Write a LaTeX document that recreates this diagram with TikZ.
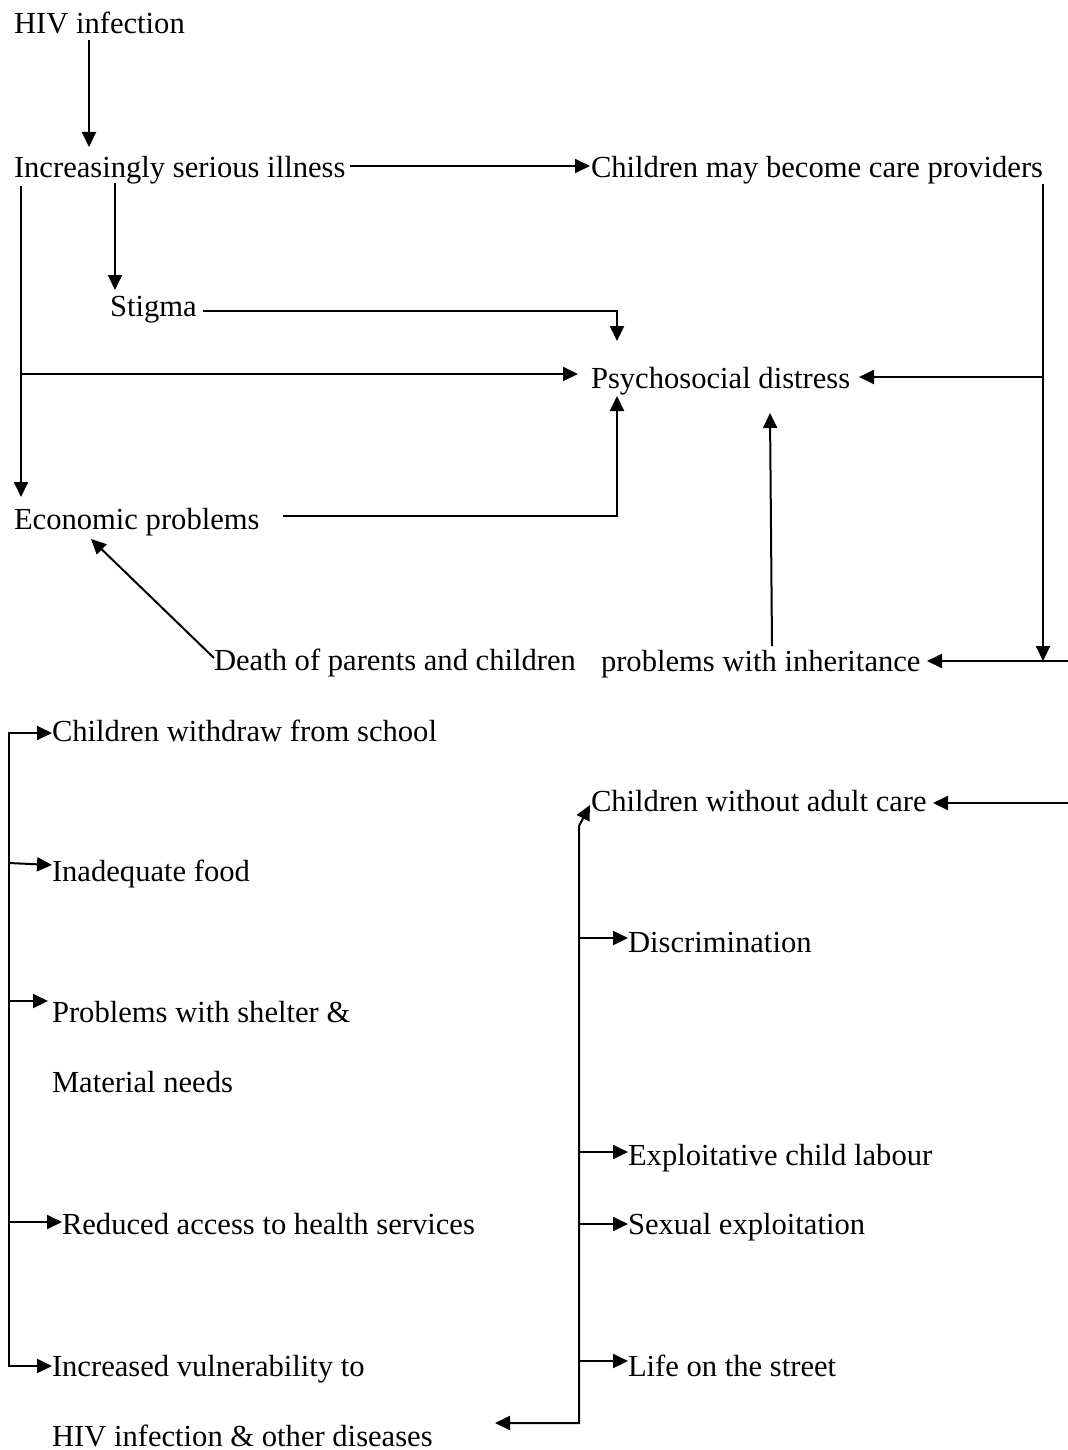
\documentclass[tikz,border=0pt]{standalone}
\usepackage{fontspec}
\setmainfont{Liberation Serif}
\usetikzlibrary{arrows.meta}
\begin{document}
\begin{tikzpicture}[x=0.5pt,y=-0.5pt,
  lbl/.style={anchor=base west,inner sep=0pt,outer sep=0pt,font=\fontsize{15.3}{18}\selectfont},
  conn/.style={line width=1pt},
  tip/.tip={Triangle[length=7.5pt,width=7pt]},
  arr/.style={conn,-tip},
  twoarr/.style={conn,tip-tip}]
\useasboundingbox[fill=white] (0,0) rectangle (1068,1450);

% ---------- text nodes ----------
\node[lbl] (hiv)   at (14,34)   {HIV infection};
\node[lbl] (ill)   at (14,177)  {Increasingly serious illness};
\node[lbl] (chp)   at (591,177) {Children may become care providers};
\node[lbl] (stig)  at (110,316) {Stigma};
\node[lbl] (psy)   at (591,388) {Psychosocial distress};
\node[lbl] (eco)   at (14,529)  {Economic problems};
\node[lbl] (death) at (214,670) {Death of parents and children};
\node[lbl] (inh)   at (601,671) {problems with inheritance};
\node[lbl] (cws)   at (52,741)  {Children withdraw from school};
\node[lbl] (cwac)  at (591,811) {Children without adult care};
\node[lbl] (food)  at (52,881)  {Inadequate food};
\node[lbl] (disc)  at (628,952) {Discrimination};
\node[lbl] (shel)  at (52,1022) {Problems with shelter \&};
\node[lbl] (mat)   at (52,1092) {Material needs};
\node[lbl] (expl)  at (628,1165) {Exploitative child labour};
\node[lbl] (red)   at (62,1234) {Reduced access to health services};
\node[lbl] (sex)   at (628,1234) {Sexual exploitation};
\node[lbl] (life)  at (628,1376) {Life on the street};
\node[lbl] (inc)   at (52,1376) {Increased vulnerability to};
\node[lbl] (hivd)  at (52,1446) {HIV infection \& other diseases};

% ---------- connector points ----------
\coordinate (hivout)  at (89,40);
\coordinate (illin)   at (89,147);
\coordinate (illout)  at (350,166);
\coordinate (chpin)   at (590,166);
\coordinate (illst)   at (115,183);
\coordinate (stigin)  at (115,290);
\coordinate (stigout) at (203,311);
\coordinate (stigbend) at (617,311);
\coordinate (psytop)  at (617,341);
\coordinate (lefttop) at (21,186);
\coordinate (leftmid) at (21,374);
\coordinate (ecoin)   at (21,497);
\coordinate (psyleft) at (578,374);
\coordinate (ecoout)  at (283,516);
\coordinate (ecobend) at (617,516);
\coordinate (psybot)  at (617,396);
\coordinate (righttop) at (1043,184);
\coordinate (rightmid) at (1043,377);
\coordinate (rightbot) at (1043,661);
\coordinate (psyright) at (859,377);
\coordinate (edgeA)   at (1068,661);
\coordinate (inhin)   at (927,661);
\coordinate (inhout)  at (772,646);
\coordinate (psyin2)  at (770,413);
\coordinate (deathout) at (214,658);
\coordinate (ecoin2)  at (91,539);
\coordinate (edgeB)   at (1068,803);
\coordinate (cwacin)  at (933,803);

% left bracket
\coordinate (lb1) at (9,733);   \coordinate (cwsin)  at (52,733);
\coordinate (lb2) at (9,863);   \coordinate (foodin) at (52,865);
\coordinate (lb3) at (9,1001);  \coordinate (shelin) at (48,1001);
\coordinate (lb4) at (9,1222);  \coordinate (redin)  at (62,1222);
\coordinate (lb5) at (9,1366);  \coordinate (incin)  at (52,1366);

% right bracket
\coordinate (cwacin2) at (590,805);
\coordinate (rb0) at (579,826);
\coordinate (rb1) at (579,938);  \coordinate (discin) at (628,938);
\coordinate (rb2) at (579,1152); \coordinate (explin) at (628,1152);
\coordinate (rb3) at (579,1224); \coordinate (sexin)  at (628,1224);
\coordinate (rb4) at (579,1361); \coordinate (lifein) at (628,1361);
\coordinate (rb5) at (579,1423); \coordinate (hivdin) at (495,1423);

% ---------- connectors ----------
\draw[arr] (hivout) -- (illin);
\draw[arr] (illout) -- (chpin);
\draw[arr] (illst) -- (stigin);
\draw[arr] (stigout) -- (stigbend) -- (psytop);
\draw[arr] (lefttop) -- (ecoin);
\draw[arr] (leftmid) -- (psyleft);
\draw[arr] (ecoout) -- (ecobend) -- (psybot);
\draw[arr] (righttop) -- (rightbot);
\draw[arr] (rightmid) -- (psyright);
\draw[arr] (edgeA) -- (inhin);
\draw[arr] (inhout) -- (psyin2);
\draw[arr] (deathout) -- (ecoin2);
\draw[arr] (edgeB) -- (cwacin);

\draw[twoarr] (cwsin) -- (lb1) -- (lb5) -- (incin);
\draw[arr] (lb2) -- (foodin);
\draw[arr] (lb3) -- (shelin);
\draw[arr] (lb4) -- (redin);

\draw[twoarr] (cwacin2) -- (rb0) -- (rb5) -- (hivdin);
\draw[arr] (rb1) -- (discin);
\draw[arr] (rb2) -- (explin);
\draw[arr] (rb3) -- (sexin);
\draw[arr] (rb4) -- (lifein);
\end{tikzpicture}
\end{document}
